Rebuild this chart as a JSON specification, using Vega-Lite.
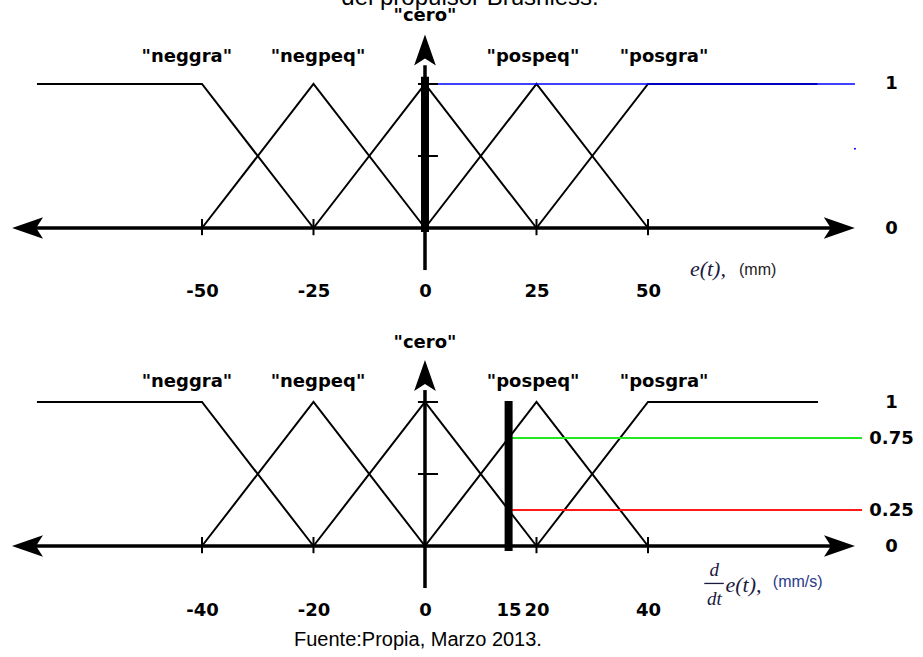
{
  "$schema": "https://vega.github.io/schema/vega-lite/v6.json",
  "padding": 0,
  "spacing": 0,
  "background": "white",
  "config": {"view": {"stroke": null}},
  "vconcat": [
    {
      "width": 923,
      "height": 310,
      "encoding": {
        "x": {"field": "x", "type": "quantitative", "scale": {"domain": [-95.29, 111.66], "nice": false, "zero": false},
              "axis": {"orient": "bottom", "offset": -19, "values": [-50, -25, 0, 25, 50], "labelExpr": "toString(datum.value)", "domain": false, "ticks": false, "grid": false, "labelPadding": 0, "labelBaseline": "middle", "labelFont": "DejaVu Sans", "labelFontWeight": "bold", "labelFontSize": 18, "labelColor": "#000", "labelFlush": false, "labelOverlap": false, "title": null}},
        "y": {"field": "y", "type": "quantitative", "scale": {"domain": [-0.5694, 1.5833], "nice": false, "zero": false},
              "axis": {"orient": "right", "offset": -32, "values": [0, 1], "labelExpr": "toString(datum.value)", "domain": false, "ticks": false, "grid": false, "labelPadding": 0, "labelAlign": "center", "labelBaseline": "middle", "labelFont": "DejaVu Sans", "labelFontWeight": "bold", "labelFontSize": 18, "labelColor": "#000", "labelFlush": false, "labelOverlap": false, "title": null}}
      },
      "layer": [
        {
          "data": {"values": [
            {"set": "neggra", "x": -87, "y": 1}, {"set": "neggra", "x": -50, "y": 1}, {"set": "neggra", "x": -25, "y": 0},
            {"set": "negpeq", "x": -50, "y": 0}, {"set": "negpeq", "x": -25, "y": 1}, {"set": "negpeq", "x": 0, "y": 0},
            {"set": "cero", "x": -25, "y": 0}, {"set": "cero", "x": 0, "y": 1}, {"set": "cero", "x": 25, "y": 0},
            {"set": "pospeq", "x": 0, "y": 0}, {"set": "pospeq", "x": 25, "y": 1}, {"set": "pospeq", "x": 50, "y": 0},
            {"set": "posgra", "x": 25, "y": 0}, {"set": "posgra", "x": 50, "y": 1}, {"set": "posgra", "x": 88, "y": 1}
          ]},
          "mark": {"type": "line", "color": "#000", "strokeWidth": 2},
          "encoding": {"detail": {"field": "set", "type": "nominal"}}
        },
        {
          "data": {"values": [{"x": 0, "x2": 96.4, "y": 1, "y2": 1}]},
          "mark": {"type": "rule", "color": "#0000ff", "strokeWidth": 1.6},
          "encoding": {"x2": {"field": "x2"}, "y2": {"field": "y2"}}
        },
        {
          "data": {"values": [{"x": 96.4, "y": 0.55}]},
          "mark": {"type": "point", "filled": true, "color": "#0000ff", "size": 4, "opacity": 1},
          "encoding": {}
        },
        {
          "data": {"values": [{"x": -90.8, "x2": 94.2, "y": 0, "y2": 0}, {"x": 0, "x2": 0, "y": 1.13, "y2": -0.292}]},
          "mark": {"type": "rule", "color": "#000", "strokeWidth": 3.5},
          "encoding": {"x2": {"field": "x2"}, "y2": {"field": "y2"}}
        },
        {
          "data": {"values": [
            {"x": -50, "x2": -50, "y": 0.0625, "y2": -0.05}, {"x": -25, "x2": -25, "y": 0.0625, "y2": -0.05},
            {"x": 25, "x2": 25, "y": 0.0625, "y2": -0.05}, {"x": 50, "x2": 50, "y": 0.0625, "y2": -0.05},
            {"x": -1.57, "x2": 2.9, "y": 0.5, "y2": 0.5}, {"x": -1.57, "x2": 2.9, "y": 1, "y2": 1}
          ]},
          "mark": {"type": "rule", "color": "#000", "strokeWidth": 2},
          "encoding": {"x2": {"field": "x2"}, "y2": {"field": "y2"}}
        },
        {
          "data": {"values": [{"x": 0, "x2": 0, "y": 1.05, "y2": -0.028}]},
          "mark": {"type": "rule", "color": "#000", "strokeWidth": 8},
          "encoding": {"x2": {"field": "x2"}, "y2": {"field": "y2"}}
        },
        {
          "data": {"values": [{"x": 92.9, "y": 0}]},
          "mark": {"type": "point", "shape": "M 1 0 L -1 -0.7 L -0.55 0 L -1 0.7 Z", "filled": true, "color": "#000", "opacity": 1, "size": 961, "angle": 0},
          "encoding": {}
        },
        {
          "data": {"values": [{"x": -89.1, "y": 0}]},
          "mark": {"type": "point", "shape": "M 1 0 L -1 -0.7 L -0.55 0 L -1 0.7 Z", "filled": true, "color": "#000", "opacity": 1, "size": 961, "angle": 180},
          "encoding": {}
        },
        {
          "data": {"values": [{"x": 0, "y": 1.236}]},
          "mark": {"type": "point", "shape": "M 1 0 L -1 -0.7 L -0.55 0 L -1 0.7 Z", "filled": true, "color": "#000", "opacity": 1, "size": 961, "angle": 270},
          "encoding": {}
        },
        {
          "data": {"values": [
            {"x": -53.4, "y": 1.1875, "t": "\"neggra\""},
            {"x": -24.0, "y": 1.1875, "t": "\"negpeq\""},
            {"x": 24.2, "y": 1.1875, "t": "\"pospeq\""},
            {"x": 53.6, "y": 1.1875, "t": "\"posgra\""},
            {"x": 0, "y": 1.47, "t": "\"cero\""}
          ]},
          "mark": {"type": "text", "font": "DejaVu Sans", "fontWeight": "bold", "fontSize": 18, "color": "#000", "align": "center", "baseline": "middle"},
          "encoding": {"text": {"field": "t"}}
        },
        {
          "data": {"values": [{"x": 10.1, "y": 1.55, "t": "del propulsor Brushless."}]},
          "mark": {"type": "text", "font": "Liberation Sans", "fontSize": 24, "color": "#000", "align": "center", "baseline": "alphabetic", "clip": true},
          "encoding": {"text": {"field": "t"}}
        },
        {
          "data": {"values": [{"x": 59.4, "y": -0.285, "t": "e(t),"}]},
          "mark": {"type": "text", "font": "Liberation Serif", "fontStyle": "italic", "fontSize": 22, "color": "#1a1a40", "align": "left", "baseline": "middle"},
          "encoding": {"text": {"field": "t"}}
        },
        {
          "data": {"values": [{"x": 70.4, "y": -0.29, "t": "(mm)"}]},
          "mark": {"type": "text", "font": "Liberation Sans", "fontSize": 16, "color": "#222", "align": "left", "baseline": "middle"},
          "encoding": {"text": {"field": "t"}}
        }
      ]
    },
    {
      "width": 923,
      "height": 347,
      "encoding": {
        "x": {"field": "x", "type": "quantitative", "scale": {"domain": [-76.23, 89.33], "nice": false, "zero": false},
              "axis": {"orient": "bottom", "offset": -47, "values": [-40, -20, 0, 15, 20, 40], "labelExpr": "toString(datum.value)", "domain": false, "ticks": false, "grid": false, "labelPadding": 0, "labelBaseline": "middle", "labelFont": "DejaVu Sans", "labelFontWeight": "bold", "labelFontSize": 18, "labelColor": "#000", "labelFlush": false, "labelOverlap": false, "title": null}},
        "y": {"field": "y", "type": "quantitative", "scale": {"domain": [-0.7708, 1.6389], "nice": false, "zero": false},
              "axis": {"orient": "right", "offset": -32, "values": [0, 0.25, 0.75, 1], "labelExpr": "toString(datum.value)", "domain": false, "ticks": false, "grid": false, "labelPadding": 0, "labelAlign": "center", "labelBaseline": "middle", "labelFont": "DejaVu Sans", "labelFontWeight": "bold", "labelFontSize": 18, "labelColor": "#000", "labelFlush": false, "labelOverlap": false, "title": null}}
      },
      "layer": [
        {
          "data": {"values": [
            {"set": "neggra", "x": -69.6, "y": 1}, {"set": "neggra", "x": -40, "y": 1}, {"set": "neggra", "x": -20, "y": 0},
            {"set": "negpeq", "x": -40, "y": 0}, {"set": "negpeq", "x": -20, "y": 1}, {"set": "negpeq", "x": 0, "y": 0},
            {"set": "cero", "x": -20, "y": 0}, {"set": "cero", "x": 0, "y": 1}, {"set": "cero", "x": 20, "y": 0},
            {"set": "pospeq", "x": 0, "y": 0}, {"set": "pospeq", "x": 20, "y": 1}, {"set": "pospeq", "x": 40, "y": 0},
            {"set": "posgra", "x": 20, "y": 0}, {"set": "posgra", "x": 40, "y": 1}, {"set": "posgra", "x": 70.5, "y": 1}
          ]},
          "mark": {"type": "line", "color": "#000", "strokeWidth": 2},
          "encoding": {"detail": {"field": "set", "type": "nominal"}}
        },
        {
          "data": {"values": [{"x": 15, "x2": 78.4, "y": 0.75, "y2": 0.75}]},
          "mark": {"type": "rule", "color": "#22e822", "strokeWidth": 1.8},
          "encoding": {"x2": {"field": "x2"}, "y2": {"field": "y2"}}
        },
        {
          "data": {"values": [{"x": 15, "x2": 78.4, "y": 0.25, "y2": 0.25}]},
          "mark": {"type": "rule", "color": "#ff1a1a", "strokeWidth": 1.8},
          "encoding": {"x2": {"field": "x2"}, "y2": {"field": "y2"}}
        },
        {
          "data": {"values": [{"x": -72.6, "x2": 75.3, "y": 0, "y2": 0}, {"x": 0, "x2": 0, "y": 1.083, "y2": -0.292}]},
          "mark": {"type": "rule", "color": "#000", "strokeWidth": 3.5},
          "encoding": {"x2": {"field": "x2"}, "y2": {"field": "y2"}}
        },
        {
          "data": {"values": [
            {"x": -40, "x2": -40, "y": 0.0625, "y2": -0.05}, {"x": -20, "x2": -20, "y": 0.0625, "y2": -0.05},
            {"x": 20, "x2": 20, "y": 0.0625, "y2": -0.05}, {"x": 40, "x2": 40, "y": 0.0625, "y2": -0.05},
            {"x": -1.26, "x2": 2.33, "y": 0.5, "y2": 0.5}, {"x": -1.26, "x2": 2.33, "y": 1, "y2": 1}
          ]},
          "mark": {"type": "rule", "color": "#000", "strokeWidth": 2},
          "encoding": {"x2": {"field": "x2"}, "y2": {"field": "y2"}}
        },
        {
          "data": {"values": [{"x": 15, "x2": 15, "y": 1.007, "y2": -0.035}]},
          "mark": {"type": "rule", "color": "#000", "strokeWidth": 8},
          "encoding": {"x2": {"field": "x2"}, "y2": {"field": "y2"}}
        },
        {
          "data": {"values": [{"x": 74.35, "y": 0}]},
          "mark": {"type": "point", "shape": "M 1 0 L -1 -0.7 L -0.55 0 L -1 0.7 Z", "filled": true, "color": "#000", "opacity": 1, "size": 961, "angle": 0},
          "encoding": {}
        },
        {
          "data": {"values": [{"x": -71.3, "y": 0}]},
          "mark": {"type": "point", "shape": "M 1 0 L -1 -0.7 L -0.55 0 L -1 0.7 Z", "filled": true, "color": "#000", "opacity": 1, "size": 961, "angle": 180},
          "encoding": {}
        },
        {
          "data": {"values": [{"x": 0, "y": 1.184}]},
          "mark": {"type": "point", "shape": "M 1 0 L -1 -0.7 L -0.55 0 L -1 0.7 Z", "filled": true, "color": "#000", "opacity": 1, "size": 961, "angle": 270},
          "encoding": {}
        },
        {
          "data": {"values": [
            {"x": -42.7, "y": 1.139, "t": "\"neggra\""},
            {"x": -19.2, "y": 1.139, "t": "\"negpeq\""},
            {"x": 19.4, "y": 1.139, "t": "\"pospeq\""},
            {"x": 42.9, "y": 1.139, "t": "\"posgra\""},
            {"x": 0, "y": 1.41, "t": "\"cero\""}
          ]},
          "mark": {"type": "text", "font": "DejaVu Sans", "fontWeight": "bold", "fontSize": 18, "color": "#000", "align": "center", "baseline": "middle"},
          "encoding": {"text": {"field": "t"}}
        },
        {
          "data": {"values": [{"x": 50.1, "x2": 53.6, "y": -0.26, "y2": -0.26}]},
          "mark": {"type": "rule", "color": "#1a1a40", "strokeWidth": 1.3},
          "encoding": {"x2": {"field": "x2"}, "y2": {"field": "y2"}}
        },
        {
          "data": {"values": [{"x": 51.9, "y": -0.165, "t": "d"}, {"x": 51.9, "y": -0.37, "t": "dt"}]},
          "mark": {"type": "text", "font": "Liberation Serif", "fontStyle": "italic", "fontSize": 19, "color": "#1a1a40", "align": "center", "baseline": "middle"},
          "encoding": {"text": {"field": "t"}}
        },
        {
          "data": {"values": [{"x": 53.9, "y": -0.27, "t": "e(t),"}]},
          "mark": {"type": "text", "font": "Liberation Serif", "fontStyle": "italic", "fontSize": 22, "color": "#1a1a40", "align": "left", "baseline": "middle"},
          "encoding": {"text": {"field": "t"}}
        },
        {
          "data": {"values": [{"x": 62.4, "y": -0.25, "t": "(mm/s)"}]},
          "mark": {"type": "text", "font": "Liberation Sans", "fontSize": 16, "color": "#2a3a8a", "align": "left", "baseline": "middle"},
          "encoding": {"text": {"field": "t"}}
        },
        {
          "data": {"values": [{"x": -1.26, "y": -0.653, "t": "Fuente:Propia, Marzo 2013."}]},
          "mark": {"type": "text", "font": "Liberation Sans", "fontSize": 20, "color": "#000", "align": "center", "baseline": "middle"},
          "encoding": {"text": {"field": "t"}}
        }
      ]
    }
  ]
}
